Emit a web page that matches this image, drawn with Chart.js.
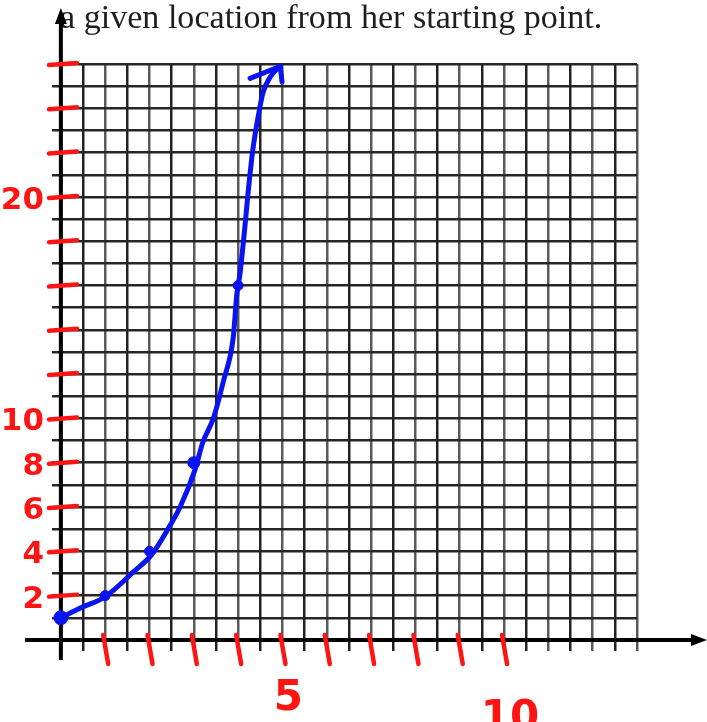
<!DOCTYPE html>
<html>
<head>
<meta charset="utf-8">
<script src="https://cdn.jsdelivr.net/npm/chart.js@4.4.1/dist/chart.umd.min.js"></script>
<style>
  html, body { margin: 0; padding: 0; background: #fff; }
  #wrap { width: 707px; height: 722px; position: relative; }
</style>
</head>
<body>
<div id="wrap"><canvas id="graph"></canvas></div>
<script>
// the dots she marked
const dotX = [0, 1, 2, 3, 4];
const dotY = [1, 2, 4, 8, 16];

// hand-drawn curve
const curveX = [0, 0.45, 1, 1.63, 2.05, 2.4, 2.69, 3.03, 3.2, 3.44, 3.67, 3.89, 3.97, 4.04, 4.15, 4.22, 4.33, 4.45, 4.56, 4.72, 4.94];
const curveY = [1, 1.45, 1.95, 3.06, 3.85, 4.95, 6.0, 7.7, 8.9, 10.0, 11.7, 13.66, 15.6, 16.5, 18.6, 20.1, 22.1, 23.6, 24.7, 25.4, 25.9];

// arrow head at the end of the curve
const arrowX = [4.27, 4.95, 4.99];
const arrowY = [25.35, 25.9, 25.2];

// red pen marks on the axes
const yMarks = [2, 4, 6, 8, 10, 12, 14, 16, 18, 20, 22, 24, 26];
const yLabelValues = [2, 4, 6, 8, 10, 20];
const yLabelText = ["2", "4", "6", "8", "10", "20"];
const xMarks = [1, 2, 3, 4, 5, 6, 7, 8, 9, 10];
const xLabelValues = [5, 10];
const xLabelText = ["5", "10"];

const caption = "a given location from her starting point.";

const RED = "#ff1414";
const BLUE = "#0a14f0";

function toPoints(xs, ys) {
  return xs.map((x, i) => ({ x: x, y: ys[i] }));
}

const handDrawn = {
  id: "handDrawn",
  beforeDatasetsDraw(chart) {
    const ctx = chart.ctx;
    const xs = chart.scales.x;
    const ys = chart.scales.y;
    const x0 = xs.getPixelForValue(0);
    const y0 = ys.getPixelForValue(0);

    ctx.save();
    // caption (printed text above the grid)
    let size = 26;
    ctx.font = size + 'px "Liberation Serif"';
    const w = ctx.measureText(caption).width;
    size = size * 543 / w;
    ctx.font = size.toFixed(1) + 'px "Liberation Serif"';
    ctx.fillStyle = "#1e1e1e";
    ctx.textBaseline = "alphabetic";
    ctx.fillText(caption, 60, 28);

    // axes
    ctx.strokeStyle = "#000";
    ctx.fillStyle = "#000";
    ctx.lineWidth = 4;
    ctx.beginPath();
    ctx.moveTo(x0, 660);
    ctx.lineTo(x0, 18);
    ctx.moveTo(25, y0);
    ctx.lineTo(698, y0);
    ctx.stroke();
    ctx.beginPath();
    ctx.moveTo(x0, 8);
    ctx.lineTo(x0 - 6, 24);
    ctx.lineTo(x0 + 6, 24);
    ctx.closePath();
    ctx.fill();
    ctx.beginPath();
    ctx.moveTo(707, y0);
    ctx.lineTo(691, y0 - 6);
    ctx.lineTo(691, y0 + 6);
    ctx.closePath();
    ctx.fill();

    // red marks
    ctx.strokeStyle = RED;
    ctx.fillStyle = RED;
    ctx.lineWidth = 4.5;
    ctx.lineCap = "round";
    yMarks.forEach(v => {
      const py = ys.getPixelForValue(v);
      ctx.beginPath();
      ctx.moveTo(49, py + 1);
      ctx.lineTo(77, py - 1);
      ctx.stroke();
    });
    xMarks.forEach(v => {
      const px = xs.getPixelForValue(v);
      ctx.beginPath();
      ctx.moveTo(px - 2, y0 - 5);
      ctx.lineTo(px + 3, y0 + 24);
      ctx.stroke();
    });

    ctx.font = 'bold 31px "DejaVu Sans"';
    ctx.textAlign = "right";
    ctx.textBaseline = "middle";
    yLabelValues.forEach((v, i) => {
      ctx.fillText(yLabelText[i], 44, ys.getPixelForValue(v) + 4);
    });
    ctx.font = 'bold 42px "DejaVu Sans"';
    ctx.textAlign = "center";
    ctx.textBaseline = "top";
    const drop = [38, 58];
    xLabelValues.forEach((v, i) => {
      ctx.fillText(xLabelText[i], xs.getPixelForValue(v) + 6, y0 + drop[i]);
    });
    ctx.restore();
  }
};

function halfSteps(scale) {
  const t = [];
  for (let v = 0; v <= scale.max + 1e-9; v += 0.5) t.push({ value: v });
  scale.ticks = t;
}
function unitSteps(scale) {
  const t = [];
  for (let v = 0; v <= scale.max + 1e-9; v += 1) t.push({ value: v });
  scale.ticks = t;
}

new Chart(document.getElementById("graph"), {
  type: "scatter",
  data: {
    datasets: [
      {
        data: toPoints(curveX, curveY),
        showLine: true,
        borderColor: BLUE,
        borderWidth: 5,
        cubicInterpolationMode: "monotone",
        pointRadius: 0,
        borderCapStyle: "round",
        borderJoinStyle: "round",
        clip: false
      },
      {
        data: toPoints(arrowX, arrowY),
        showLine: true,
        borderColor: BLUE,
        borderWidth: 5,
        tension: 0,
        pointRadius: 0,
        borderCapStyle: "round",
        borderJoinStyle: "round",
        clip: false
      },
      {
        data: toPoints(dotX, dotY),
        showLine: false,
        backgroundColor: BLUE,
        borderColor: BLUE,
        pointRadius: [7, 5, 5, 6, 5],
        clip: false
      }
    ]
  },
  options: {
    responsive: true,
    maintainAspectRatio: false,
    animation: false,
    layout: { padding: { left: 52, top: 64, right: 70, bottom: 71 } },
    plugins: { legend: { display: false }, tooltip: { enabled: false } },
    scales: {
      x: {
        type: "linear",
        min: -0.2,
        max: 13,
        afterBuildTicks: halfSteps,
        ticks: { display: false },
        border: { display: false },
        grid: {
          drawTicks: false,
          lineWidth: 2.5,
          color: c => (c.tick && c.tick.value % 1 === 0) ? "#5a5a5a" : "#222"
        }
      },
      y: {
        type: "linear",
        min: -0.5,
        max: 26,
        afterBuildTicks: unitSteps,
        ticks: { display: false },
        border: { display: false },
        grid: { drawTicks: false, lineWidth: 2.5, color: "#262626" }
      }
    }
  },
  plugins: [handDrawn]
});
</script>
</body>
</html>
